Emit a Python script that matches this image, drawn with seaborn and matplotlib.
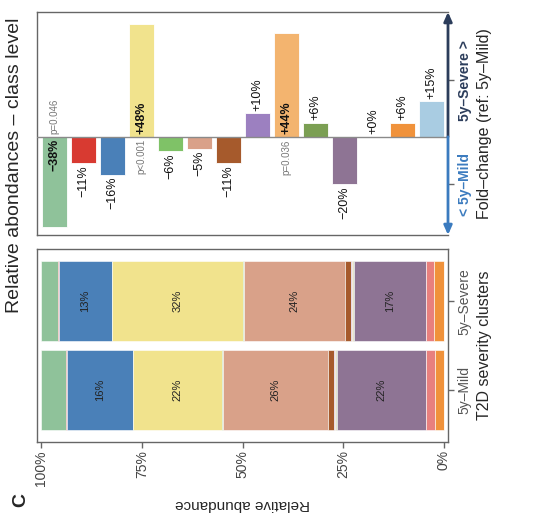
import matplotlib
matplotlib.use("Agg")
import matplotlib.pyplot as plt
import matplotlib.transforms as mtransforms
import numpy as np
import pandas as pd
import seaborn as sns

# classes, in plotting order (left -> right on the fold-change panel)
CLASSES = [
    "Actinobacteria", "Bacilli", "Bacteroidia", "Clostridia", "Coriobacteriia",
    "Erysipelotrichia", "Gammaproteobacteria", "Methanobacteria", "Negativicutes",
    "Deltaproteobacteria", "Verrucomicrobiae", "Betaproteobacteria",
    "Fusobacteriia", "Others",
]
COLORS = [
    "#8fc29a", "#d83a31", "#4a80b8", "#f1e38d", "#7fc267", "#d9a189", "#a65a2c",
    "#9c80c0", "#f3b46f", "#7b9f53", "#8e7494", "#e8807e", "#f0923b", "#a9cce2",
]
FOLD_CHANGE = [-38, -11, -16, 48, -6, -5, -11, 10, 44, 6, -20, 0, 6, 15]
P_VALUES = {0: "p=0.046", 3: "p<0.001", 8: "p=0.036"}

CLUSTERS = ["5y\u2013Severe", "5y\u2013Mild"]
ABUND_SEVERE = [4.1, 0.3, 13.3, 32.5, 0.25, 24.9, 1.5, 0.3, 0.25, 0.25, 17.8, 2.05, 2.45, 0.05]
ABUND_MILD = [6.1, 0.35, 16.3, 22.05, 0.25, 26.2, 1.4, 0.25, 0.2, 0.3, 22.25, 2.05, 2.2, 0.1]

PCT_TICKS = [0, 25, 50, 75, 100]
FC_TICKS = [-20, 24]
FC_TICK_LABELS = ["< 5y\u2013Mild", "5y\u2013Severe >"]
FC_TICK_COLORS = ["#3b7bbf", "#2c3d5b"]

W, H = 539, 529


def fmt_pct(v: int) -> str:
    return f"{v:+d}%".replace("-", "\u2212")


def plot_fold_change(ax: plt.Axes) -> None:
    df = pd.DataFrame({"pos": range(len(CLASSES)), "cls": CLASSES, "fc": FOLD_CHANGE})
    sns.barplot(data=df, x="pos", y="fc", hue="cls", palette=COLORS, width=0.86,
                legend=False, edgecolor="white", linewidth=0.6, saturation=1, ax=ax)
    ylo, yhi = -41.6, 52.9
    ax.set_ylim(ylo, yhi)
    ax.set_xlim(-0.6, len(CLASSES) - 0.44)
    ax.axhline(0, color="#8a8a8a", lw=1.0, zorder=3)

    for i, v in enumerate(FOLD_CHANGE):
        if i in P_VALUES:
            sgn = -1 if v < 0 else 1
            ax.text(i, sgn * 1, fmt_pct(v), rotation=90, ha="center",
                    va="top" if sgn < 0 else "bottom",
                    fontsize=9, fontweight="bold", color="#111111")
            ax.text(i, -sgn * 1, P_VALUES[i], rotation=90, ha="center",
                    va="bottom" if sgn < 0 else "top", fontsize=7, color="#777777")
        elif v < 0:
            ax.text(i, v - 1, fmt_pct(v), rotation=90, ha="center", va="top",
                    fontsize=9, color="#111111")
        else:
            ax.text(i, v + 1, fmt_pct(v), rotation=90, ha="center", va="bottom",
                    fontsize=9, color="#111111")

    for side in ("left", "top", "bottom"):
        ax.spines[side].set_color("#666666")
        ax.spines[side].set_linewidth(1.0)
    ax.spines["right"].set_visible(False)

    trans = mtransforms.blended_transform_factory(ax.transAxes, ax.transData)
    for end, col in ((yhi, FC_TICK_COLORS[1]), (ylo, FC_TICK_COLORS[0])):
        ax.annotate("", xy=(1, end), xytext=(1, 0), xycoords=trans, textcoords=trans,
                    arrowprops=dict(arrowstyle="-|>,head_length=0.45,head_width=0.2",
                                    color=col, lw=2.0, shrinkA=0, shrinkB=0),
                    annotation_clip=False)

    ax.set_xticks([])
    ax.set_xlabel("")
    ax.yaxis.tick_right()
    ax.yaxis.set_label_position("right")
    ax.set_yticks(FC_TICKS)
    ax.set_yticklabels(FC_TICK_LABELS, rotation=90, va="center", fontsize=10,
                       fontweight="bold")
    for lab, col in zip(ax.get_yticklabels(), FC_TICK_COLORS):
        lab.set_color(col)
    ax.tick_params(axis="y", right=True, left=False, length=4, width=1,
                   color="#666666", pad=3)
    ax.set_ylabel("Fold\u2013change (ref: 5y\u2013Mild)", fontsize=11.5, labelpad=4,
                  rotation=90)


def plot_stacked(ax: plt.Axes) -> None:
    abund = np.array([ABUND_SEVERE, ABUND_MILD])
    ypos = np.arange(len(CLUSTERS))
    top = np.full(len(CLUSTERS), 100.0)
    for k, col in enumerate(COLORS):
        vals = abund[:, k]
        start = top - vals
        ax.barh(ypos, vals, left=start, height=0.9, color=col,
                edgecolor="white", linewidth=0.4)
        for j, v in enumerate(vals):
            if v >= 10:
                ax.text(start[j] + v / 2, ypos[j], f"{int(v)}%", rotation=90,
                        ha="center", va="center", fontsize=8, color="#222222")
        top = start

    ax.set_xlim(101, -1)
    ax.set_ylim(1.59, -0.59)
    ax.set_xticks(PCT_TICKS)
    ax.set_xticklabels([f"{t}%" for t in PCT_TICKS], rotation=90, fontsize=10,
                       color="#444444")
    ax.tick_params(axis="x", bottom=True, length=4, width=1, color="#666666", pad=2)
    ax.yaxis.tick_right()
    ax.yaxis.set_label_position("right")
    ax.set_yticks(ypos)
    ax.set_yticklabels(CLUSTERS, rotation=90, va="center", fontsize=10, color="#555555")
    ax.tick_params(axis="y", right=True, left=False, length=4, width=1,
                   color="#666666", pad=3)
    ax.set_ylabel("T2D severity clusters", fontsize=11.5, labelpad=4, rotation=90)
    ax.set_xlabel("Relative abundance", fontsize=11, rotation=180, labelpad=8)
    for side in ax.spines:
        ax.spines[side].set_color("#666666")
        ax.spines[side].set_linewidth(1.0)


def main() -> None:
    sns.set_theme(style="white")
    plt.rcParams["font.family"] = ["Liberation Sans", "DejaVu Sans"]

    fig = plt.figure(figsize=(W / 100, H / 100), dpi=100)
    ax_top = fig.add_axes([37 / W, (H - 235) / H, 411 / W, 223 / H])
    ax_bot = fig.add_axes([37 / W, (H - 442) / H, 411 / W, 193 / H])

    plot_fold_change(ax_top)
    plot_stacked(ax_bot)

    fig.text(15 / W, 1 - 165 / H, "Relative abondances \u2013 class level", rotation=90,
             ha="center", va="center", fontsize=14)
    fig.text(21 / W, 1 - 500 / H, "C", rotation=90, ha="center", va="center",
             fontsize=14, fontweight="bold")

    fig.savefig("out.png", dpi=100)
    plt.close(fig)


if __name__ == "__main__":
    main()
